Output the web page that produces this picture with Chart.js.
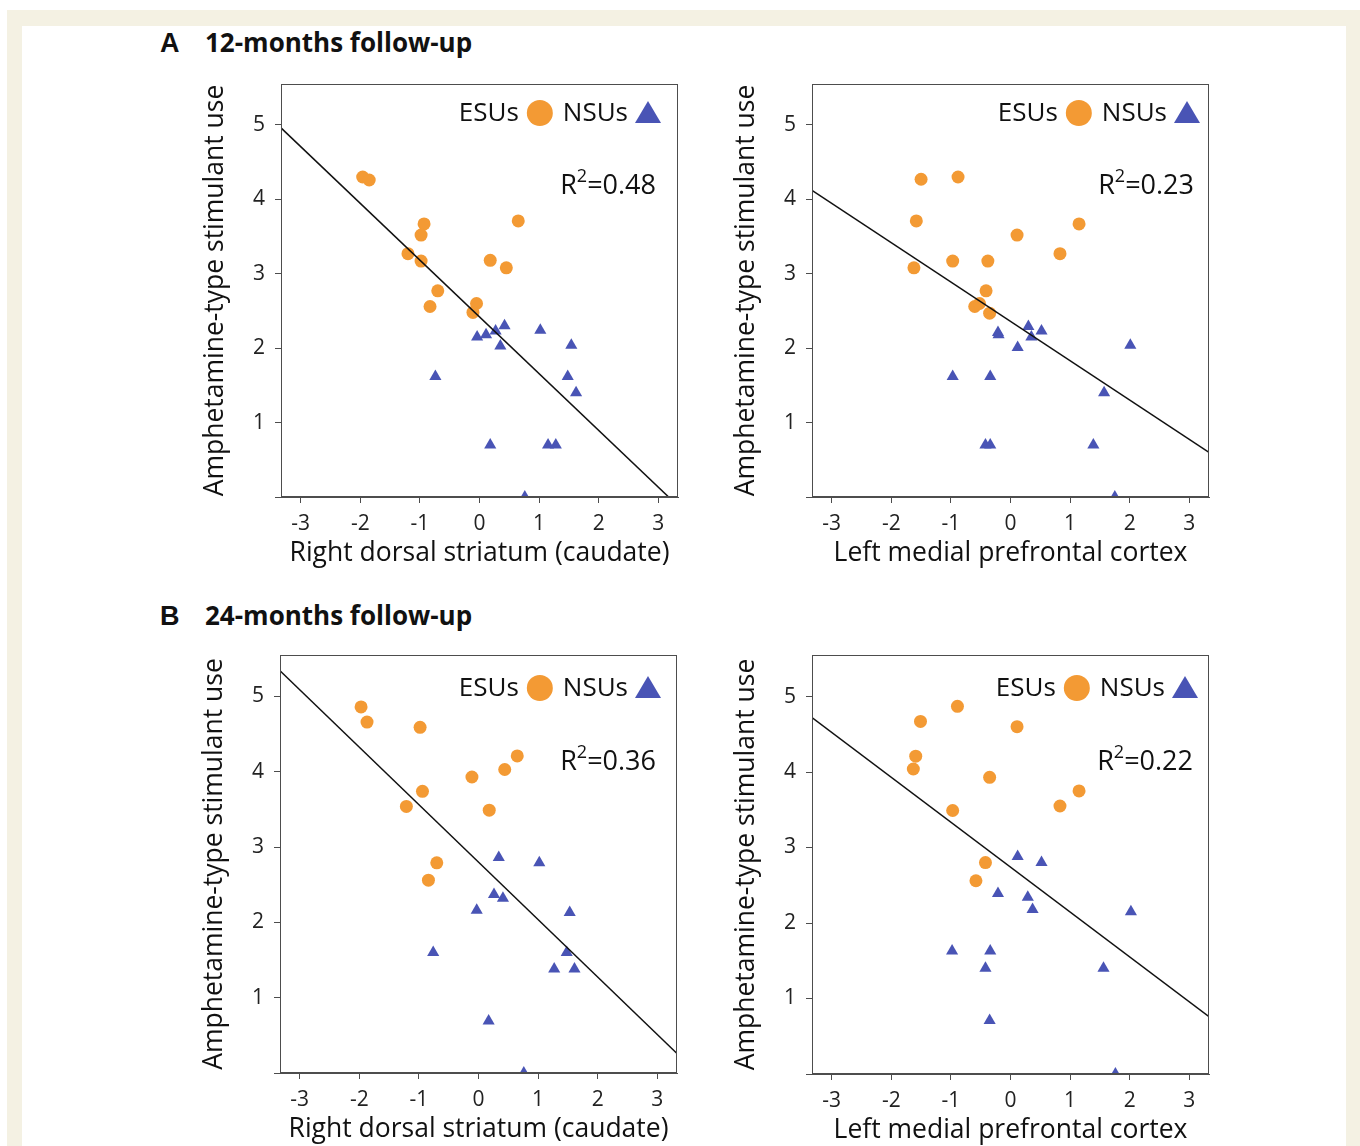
<!DOCTYPE html>
<html lang="en">
<head>
<meta charset="UTF-8" />
<script src="https://cdn.jsdelivr.net/npm/chart.js"></script>
<title>Amphetamine-type stimulant use</title>
<style>
  body { margin: 0; width: 1360px; height: 1146px; position: relative; overflow: hidden; background: #fff; font-family: "Open Sans", sans-serif; }
  .frame { position: absolute; left: 7px; top: 10px; right: 0; bottom: 0; background: #f4f1e3; }
  .sheet { position: absolute; left: 22px; top: 26px; width: 1324px; bottom: 0; background: #fff; }
  .heading { position: absolute; left: 160px; height: 34px; line-height: 34px; color: #111; font-weight: bold; white-space: nowrap; }
  .heading .letter { font-family: "Liberation Sans", Arial, sans-serif; font-size: 27px; display: inline-block; width: 45px; }
  .heading .text { font-size: 26px; }
  .panel { position: absolute; }
</style>
</head>
<body>
<div class="frame"></div>
<div class="sheet"></div>
<div class="heading" style="top:25px"><span class="letter">A</span><span class="text">12-months follow-up</span></div>
<div class="heading" style="top:598px"><span class="letter">B</span><span class="text">24-months follow-up</span></div>

<script>
  // tick values
  const tickX = [-3, -2, -1, 0, 1, 2, 3];
  const tickY = [0, 1, 2, 3, 4, 5];

  // A - 12 months, right dorsal striatum (caudate)
  const esu12CaudateX = [-1.96, -1.85, -0.93, -0.98, -1.20, -0.98, 0.65, 0.18, 0.45, -0.70, -0.83, -0.05, -0.11];
  const esu12CaudateY = [4.30, 4.26, 3.67, 3.52, 3.27, 3.17, 3.71, 3.18, 3.08, 2.77, 2.56, 2.60, 2.48];
  const nsu12CaudateX = [-0.04, 0.11, 0.27, 0.42, 0.35, 1.02, 1.54, -0.74, 1.48, 1.62, 0.18, 1.15, 1.28, 0.76];
  const nsu12CaudateY = [2.15, 2.18, 2.23, 2.30, 2.03, 2.24, 2.04, 1.62, 1.62, 1.40, 0.70, 0.70, 0.70, 0.0];

  // A - 12 months, left medial prefrontal cortex
  const esu12PfcX = [-1.50, -0.88, -1.58, 0.11, 1.15, 0.83, -0.97, -0.38, -1.62, -0.41, -0.60, -0.52, -0.35];
  const esu12PfcY = [4.27, 4.30, 3.71, 3.52, 3.67, 3.27, 3.17, 3.17, 3.08, 2.77, 2.56, 2.60, 2.47];
  const nsu12PfcX = [0.30, 0.52, -0.21, -0.20, 0.35, 0.12, 2.01, -0.97, -0.34, 1.57, -0.42, -0.34, 1.39, 1.75];
  const nsu12PfcY = [2.29, 2.23, 2.21, 2.18, 2.15, 2.01, 2.04, 1.62, 1.62, 1.40, 0.70, 0.70, 0.70, 0.0];

  // B - 24 months, right dorsal striatum (caudate)
  const esu24CaudateX = [-1.97, -1.87, -0.98, 0.65, 0.44, -0.11, -0.94, -1.21, 0.18, -0.70, -0.84];
  const esu24CaudateY = [4.86, 4.66, 4.59, 4.21, 4.03, 3.93, 3.74, 3.54, 3.49, 2.79, 2.56];
  const nsu24CaudateX = [0.34, 1.02, 0.26, 0.41, -0.03, 1.53, -0.76, 1.48, 1.27, 1.61, 0.17, 0.76];
  const nsu24CaudateY = [2.86, 2.79, 2.37, 2.32, 2.16, 2.13, 1.60, 1.60, 1.38, 1.38, 0.69, 0.0];

  // B - 24 months, left medial prefrontal cortex
  const esu24PfcX = [-0.89, -1.51, 0.11, -1.59, -1.63, -0.35, 1.15, 0.83, -0.97, -0.42, -0.58];
  const esu24PfcY = [4.87, 4.67, 4.60, 4.21, 4.04, 3.93, 3.75, 3.55, 3.49, 2.80, 2.56];
  const nsu24PfcX = [0.12, 0.52, -0.21, 0.29, 0.37, 2.02, -0.98, -0.34, -0.42, 1.56, -0.35, 1.76];
  const nsu24PfcY = [2.88, 2.80, 2.39, 2.34, 2.18, 2.15, 1.63, 1.63, 1.40, 1.40, 0.71, 0.0];

  // regression lines, read at the two edges of the x range
  const fitX = [-3.33, 3.33];
  const fit12CaudateY = [4.96, -0.12];
  const fit12PfcY = [4.12, 0.60];
  const fit24CaudateY = [5.34, 0.26];
  const fit24PfcY = [4.72, 0.76];

  const r2Values = ['0.48', '0.23', '0.36', '0.22'];
  const xTitles = ['Right dorsal striatum (caudate)', 'Left medial prefrontal cortex'];
  const yTitle = 'Amphetamine-type stimulant use';

  const ORANGE = '#f39a34';
  const BLUE = '#4954b5';
  const AXIS = '#4d4d4d';
  const FONT = '"Open Sans", sans-serif';

  // box = plot area [left, top, right, bottom] on the page
  const panels = [
    { box: [281, 84, 678, 497], esuX: esu12CaudateX, esuY: esu12CaudateY, nsuX: nsu12CaudateX, nsuY: nsu12CaudateY, fitY: fit12CaudateY, xTitle: xTitles[0], r2: r2Values[0], legendRight: 17, legendTop: 29, r2Right: 22, r2Top: 102 },
    { box: [812, 84, 1209, 497], esuX: esu12PfcX, esuY: esu12PfcY, nsuX: nsu12PfcX, nsuY: nsu12PfcY, fitY: fit12PfcY, xTitle: xTitles[1], r2: r2Values[1], legendRight: 9, legendTop: 29, r2Right: 15, r2Top: 102 },
    { box: [280, 655, 677, 1073], esuX: esu24CaudateX, esuY: esu24CaudateY, nsuX: nsu24CaudateX, nsuY: nsu24CaudateY, fitY: fit24CaudateY, xTitle: xTitles[0], r2: r2Values[2], legendRight: 16, legendTop: 33, r2Right: 21, r2Top: 107 },
    { box: [812, 655, 1209, 1074], esuX: esu24PfcX, esuY: esu24PfcY, nsuX: nsu24PfcX, nsuY: nsu24PfcY, fitY: fit24PfcY, xTitle: xTitles[1], r2: r2Values[3], legendRight: 11, legendTop: 33, r2Right: 16, r2Top: 107 },
  ];

  // box around the plot, legend and R² label inside it
  const panelDecor = {
    id: 'panelDecor',
    afterDraw(chart, args, opts) {
      const { ctx, chartArea: a } = chart;
      ctx.save();
      ctx.strokeStyle = AXIS;
      ctx.lineWidth = 1;
      ctx.strokeRect(a.left + 0.5, a.top + 0.5, a.right - a.left - 1, a.bottom - a.top - 1);

      ctx.textBaseline = 'middle';
      ctx.font = '26px ' + FONT;
      const ly = a.top + opts.legendTop;
      const triRight = a.right - opts.legendRight;
      ctx.fillStyle = BLUE;
      ctx.beginPath();
      ctx.moveTo(triRight - 13, ly - 12);
      ctx.lineTo(triRight, ly + 10);
      ctx.lineTo(triRight - 26, ly + 10);
      ctx.closePath();
      ctx.fill();

      ctx.fillStyle = '#111';
      ctx.textAlign = 'right';
      const nsuRight = triRight - 26 - 7;
      ctx.fillText('NSUs', nsuRight, ly + 1);
      const nsuW = ctx.measureText('NSUs').width;
      const cx = nsuRight - nsuW - 10 - 13;
      ctx.fillStyle = ORANGE;
      ctx.beginPath();
      ctx.arc(cx, ly, 13, 0, Math.PI * 2);
      ctx.fill();
      ctx.fillStyle = '#111';
      ctx.fillText('ESUs', cx - 13 - 8, ly + 1);

      // R² = value
      const ry = a.top + opts.r2Top;
      const rest = '=' + opts.r2;
      ctx.font = '27px ' + FONT;
      const restW = ctx.measureText(rest).width;
      const rW = ctx.measureText('R').width;
      ctx.font = '18px ' + FONT;
      const supW = ctx.measureText('2').width;
      let x = a.right - opts.r2Right - restW - supW - rW;
      ctx.textAlign = 'left';
      ctx.font = '27px ' + FONT;
      ctx.fillText('R', x, ry);
      x += rW;
      ctx.font = '18px ' + FONT;
      ctx.fillText('2', x, ry - 9);
      x += supW;
      ctx.font = '27px ' + FONT;
      ctx.fillText(rest, x, ry);
      ctx.restore();
    }
  };

  function makePanel(p) {
    const [l, t, r, b] = p.box;
    const padLeftAxis = 91, padTop = 14, padRight = 12, axisBottom = 73;
    const w = r - l + padLeftAxis + padRight;
    const h = b - t + padTop + axisBottom;
    const wrap = document.createElement('div');
    wrap.className = 'panel';
    wrap.style.left = (l - padLeftAxis) + 'px';
    wrap.style.top = (t - padTop) + 'px';
    wrap.style.width = w + 'px';
    wrap.style.height = h + 'px';
    const cv = document.createElement('canvas');
    cv.width = w;
    cv.height = h;
    wrap.appendChild(cv);
    document.body.appendChild(wrap);

    new Chart(cv, {
      type: 'scatter',
      data: {
        datasets: [
          {
            label: 'fit',
            type: 'line',
            data: fitX.map((x, i) => ({ x: x, y: p.fitY[i] })),
            borderColor: '#111',
            borderWidth: 1.5,
            pointRadius: 0,
            fill: false,
            clip: 0,
            order: 0
          },
          {
            label: 'ESUs',
            data: p.esuX.map((x, i) => ({ x: x, y: p.esuY[i] })),
            pointStyle: 'circle',
            pointRadius: 6.5,
            backgroundColor: ORANGE,
            borderWidth: 0,
            clip: 0,
            order: 1
          },
          {
            label: 'NSUs',
            data: p.nsuX.map((x, i) => ({ x: x, y: p.nsuY[i] })),
            pointStyle: 'triangle',
            pointRadius: 7,
            backgroundColor: BLUE,
            borderWidth: 0,
            clip: 0,
            order: 2
          }
        ]
      },
      options: {
        responsive: false,
        animation: false,
        layout: { padding: { top: padTop, right: padRight, left: 0, bottom: 0 } },
        plugins: {
          legend: { display: false },
          tooltip: { enabled: false },
          panelDecor: { r2: p.r2, legendRight: p.legendRight, legendTop: p.legendTop, r2Right: p.r2Right, r2Top: p.r2Top }
        },
        scales: {
          x: {
            type: 'linear',
            min: -3.33,
            max: 3.33,
            afterBuildTicks: (s) => { s.ticks = tickX.map(v => ({ value: v })); },
            afterFit: (s) => { s.height = axisBottom; s.paddingLeft = 0; s.paddingRight = 0; },
            grid: { drawOnChartArea: false, drawTicks: true, tickLength: 6, color: AXIS },
            border: { color: AXIS },
            ticks: { font: { family: FONT, size: 21 }, color: '#222', padding: 8, maxRotation: 0, autoSkip: false },
            title: { display: true, text: p.xTitle, font: { family: FONT, size: 26.5 }, color: '#111', padding: { top: 0, bottom: 1 } }
          },
          y: {
            type: 'linear',
            min: 0,
            max: 5.55,
            afterBuildTicks: (s) => { s.ticks = tickY.map(v => ({ value: v })); },
            afterFit: (s) => { s.width = padLeftAxis; s.paddingTop = 0; s.paddingBottom = 0; },
            grid: { drawOnChartArea: false, drawTicks: true, tickLength: 6, color: AXIS },
            border: { color: AXIS },
            ticks: { font: { family: FONT, size: 21 }, color: '#222', padding: 10, autoSkip: false, callback: (v) => (v === 0 ? '' : v) },
            title: { display: true, text: yTitle, font: { family: FONT, size: 26.5 }, color: '#111', padding: { top: 10, bottom: 0 } }
          }
        }
      },
      plugins: [panelDecor]
    });
  }

  panels.forEach(makePanel);
</script>
</body>
</html>
